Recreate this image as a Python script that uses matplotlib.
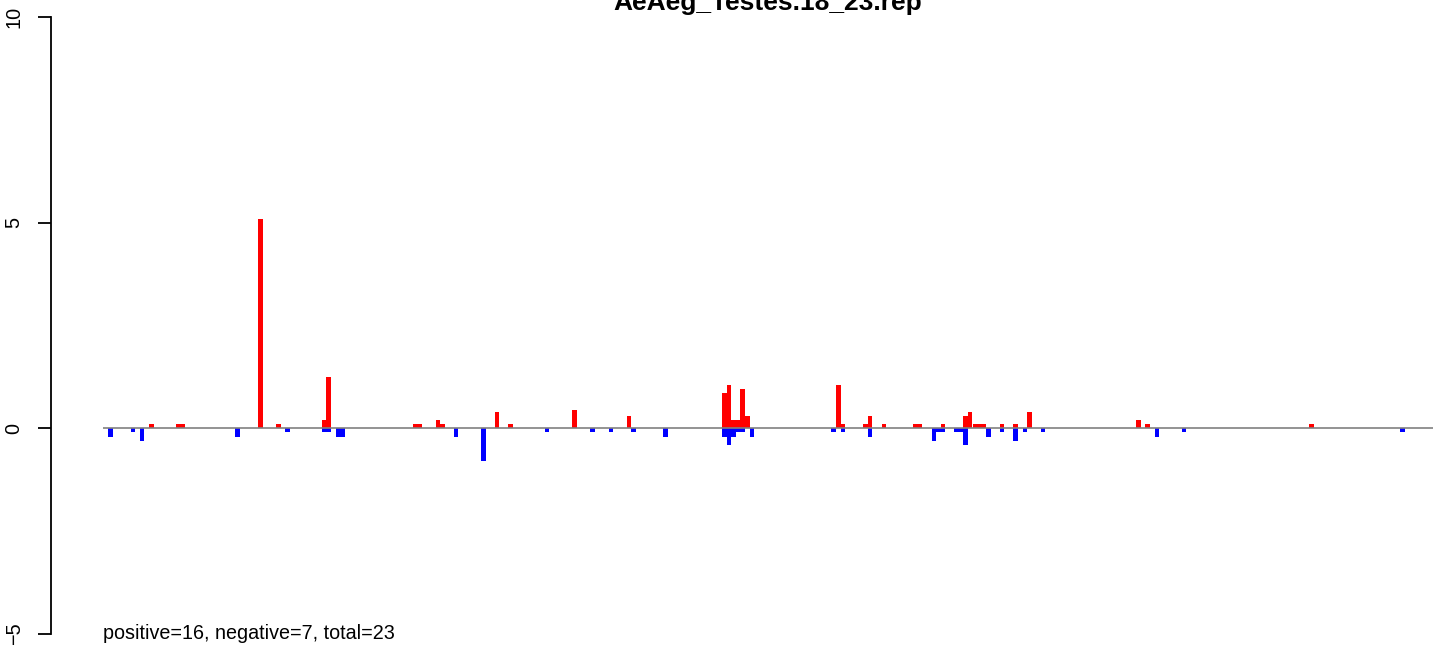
import matplotlib
matplotlib.use("Agg")
import matplotlib.pyplot as plt

plt.rcParams['font.family'] = ['Liberation Sans', 'DejaVu Sans']

# bins (index along the reference) and read-off values
pos_bins = [9, 15, 16, 33, 37, 47, 48, 67, 68, 72, 73, 85, 88, 102, 114,
            135, 136, 137, 138, 139, 140, 160, 161, 166, 167, 170, 177, 178,
            183, 188, 189, 190, 191, 192, 196, 199, 202, 226, 228, 264]
pos_vals = [0.1, 0.1, 0.1, 5.1, 0.1, 0.2, 1.25, 0.1, 0.1, 0.2, 0.1, 0.4, 0.1,
            0.45, 0.3, 0.85, 1.05, 0.2, 0.2, 0.95, 0.3, 1.05, 0.1, 0.1, 0.3,
            0.1, 0.1, 0.1, 0.1, 0.3, 0.4, 0.1, 0.1, 0.1, 0.1, 0.1, 0.4, 0.2,
            0.1, 0.1]

neg_bins = [0, 5, 7, 28, 39, 47, 48, 50, 51, 76, 82, 96, 106, 110, 115, 122,
            135, 136, 137, 138, 139, 141, 159, 161, 167, 181, 182, 183, 186,
            187, 188, 193, 196, 199, 201, 205, 230, 236, 284]
neg_vals = [-0.2, -0.1, -0.3, -0.2, -0.1, -0.1, -0.1, -0.2, -0.2, -0.2, -0.8,
            -0.1, -0.1, -0.1, -0.1, -0.2, -0.2, -0.4, -0.2, -0.1, -0.1, -0.2,
            -0.1, -0.1, -0.2, -0.3, -0.1, -0.1, -0.1, -0.1, -0.4, -0.2, -0.1,
            -0.3, -0.1, -0.1, -0.2, -0.1, -0.1]

y_ticks = [-5, 0, 5, 10]
y_labels = ['\u22125', '0', '5', '10']
title = 'AeAeg_Testes.18_23.rep'
summary = 'positive=16, negative=7, total=23'

W, H = 1444, 649
fig = plt.figure(figsize=(W / 100, H / 100), dpi=100)

# pixel layout of the reference
px_axis, px_right = 50.5, 1433
px_bin0, px_bin = 108, 4.55
px_top, px_bottom = 17.1, 633.9
ax = fig.add_axes([px_axis / W, (H - px_bottom) / H,
                   (px_right - px_axis) / W, (px_bottom - px_top) / H])

x_left = (px_axis - px_bin0) / px_bin
x_right = (px_right - px_bin0) / px_bin
line_start = (103 - px_bin0) / px_bin

ax.bar(pos_bins, pos_vals, width=1, align='edge', color='#ff0000', linewidth=0)
ax.bar(neg_bins, neg_vals, width=1, align='edge', color='#0000ff', linewidth=0)
ax.hlines(0, line_start, x_right, color='#808080', linewidth=1.2)

ax.set_xlim(x_left, x_right)
ax.set_ylim(-5, 10)
for s in ['top', 'right', 'bottom']:
    ax.spines[s].set_visible(False)
ax.spines['left'].set_linewidth(1.3)
ax.set_xticks([])
ax.set_yticks(y_ticks)
ax.set_yticklabels(y_labels, rotation=90, va='center')
ax.tick_params(axis='y', length=13 * 0.72, width=1.3, pad=10, labelsize=14.3)

ax.text(line_start, -5, summary, ha='left', va='center', fontsize=14.2)

fig.text((103 + px_right) / 2 / W, 1 - 10 / H, title, ha='center',
         va='baseline', fontsize=19, fontweight='bold')

fig.savefig('out.png', dpi=100)
